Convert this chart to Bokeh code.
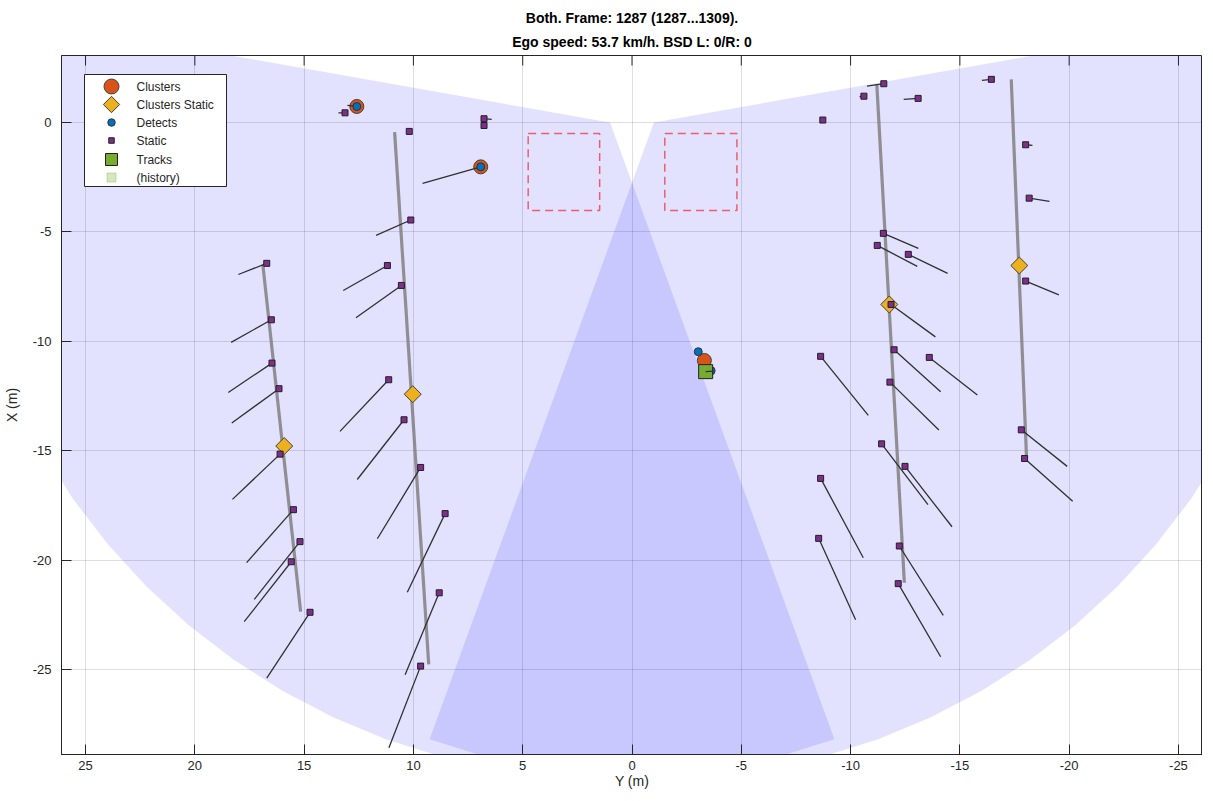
import numpy as np
from bokeh.plotting import figure
from bokeh.models import Range1d, Title, FixedTicker
from bokeh.embed import file_html
from bokeh.resources import INLINE
from bokeh.core.properties import value

# ---------------- data ----------------
title_line1 = "Both. Frame: 1287 (1287...1309)."
title_line2 = "Ego speed: 53.7 km/h. BSD L: 0/R: 0"
x_label = "Y (m)"
y_label = "X (m)"
x_ticks = [25, 20, 15, 10, 5, 0, -5, -10, -15, -20, -25]
y_ticks = [0, -5, -10, -15, -20, -25]

# radar sensors: lateral Y, longitudinal X, field of view (deg) and range (m)
sensor_y = [1.0, -1.0]
sensor_x = [0.0, 0.0]
fov_start = [-110.0, 170.0]
fov_end = [10.0, 290.0]
sensor_range = [30.0, 30.0]

# BSD zones
zone_y0 = [1.48, -4.80]
zone_y1 = [4.75, -1.50]
zone_x0 = [-4.02, -4.02]
zone_x1 = [-0.50, -0.50]

# fitted lines (guard rails)
rail_y0 = [16.89, 10.86, -11.20, -17.35]
rail_x0 = [-6.49, -0.44, 1.74, 1.97]
rail_y1 = [15.16, 9.30, -12.46, -18.05]
rail_x1 = [-22.36, -24.77, -21.04, -15.33]

# static detections and their trail end points
static_y = [16.71, 16.50, 16.47, 16.15, 16.10, 15.49, 15.19, 15.59, 14.73,
            10.19, 10.12, 11.19, 10.55, 11.13, 10.43, 9.67, 8.55, 8.82, 9.67,
            13.13, 6.77, 6.77,
            -11.52, -10.61, -13.09, -8.73, -16.44, -18.01, -18.17, -11.50, -11.22,
            -12.64, -11.85, -18.01, -11.99, -13.60, -8.63, -11.80, -17.81, -17.96,
            -11.42, -12.49, -8.63, -8.54, -12.23, -12.18]
static_x = [-6.44, -9.02, -11.00, -12.17, -15.16, -17.70, -19.16, -20.08, -22.39,
            -0.41, -4.46, -6.54, -7.45, -11.76, -13.59, -15.77, -17.88, -21.50, -24.85,
            0.44, 0.17, -0.14,
            1.77, 1.20, 1.10, 0.11, 1.97, -1.02, -3.46, -5.07, -5.62,
            -6.03, -8.32, -7.25, -10.39, -10.74, -10.69, -11.87, -14.05, -15.36,
            -14.69, -15.72, -16.27, -19.01, -19.36, -21.08]
static_end_y = [18.01, 18.34, 18.47, 18.31, 18.28, 17.63, 17.28, 17.74, 16.71,
                10.19, 11.71, 13.21, 12.63, 13.36, 12.57, 11.65, 10.28, 10.38, 11.12,
                13.43, 6.42, 6.77,
                -10.75, -10.41, -12.43, -8.73, -16.01, -18.32, -19.10, -13.10, -13.05,
                -14.44, -13.88, -19.53, -14.12, -15.80, -10.81, -14.04, -19.91, -20.16,
                -13.54, -14.64, -10.58, -10.23, -14.24, -14.12]
static_end_x = [-6.95, -10.05, -12.34, -13.74, -17.23, -20.12, -21.80, -22.82, -25.40,
                -0.41, -5.16, -7.68, -8.93, -14.12, -16.32, -19.03, -21.47, -25.24, -28.58,
                0.44, 0.14, -0.14,
                1.66, 1.18, 1.05, 0.11, 1.92, -1.05, -3.61, -5.76, -6.58,
                -6.90, -9.80, -7.88, -12.31, -12.46, -13.39, -14.06, -15.72, -17.31,
                -17.47, -18.48, -19.90, -22.73, -22.53, -24.42]

# static clusters
cstat_y = [15.91, 10.03, -11.77, -17.72]
cstat_x = [-14.79, -12.42, -8.32, -6.54]

# moving clusters
clus_y = [12.59, 6.92, -3.31]
clus_x = [0.73, -2.03, -10.88]

# detections and their trails
det_y = [12.59, 6.92, -3.03, -3.62]
det_x = [0.73, -2.03, -10.48, -11.35]
det_end_y = [13.02, 9.58, -3.03, -3.62]
det_end_x = [0.78, -2.79, -10.48, -11.35]

# tracks
trk_y = [-3.37]
trk_x = [-11.39]
trk_end_y = [-3.72]
trk_end_x = [-11.37]

legend_labels = ["Clusters", "Clusters Static", "Detects", "Static", "Tracks", "(history)"]

# ---------------- figure ----------------
FONT = "Liberation Sans"
TXT = "#262626"
X_LO, X_HI = 26.1, -26.1
Y_LO, Y_HI = -28.89, 3.06
FW, FH = 1141, 699
pxm_x = FW / abs(X_HI - X_LO)
pxm_y = FH / (Y_HI - Y_LO)

p = figure(frame_width=FW, frame_height=FH, output_backend="svg", toolbar_location=None,
           x_range=Range1d(X_LO, X_HI), y_range=Range1d(Y_LO, Y_HI),
           min_border_left=0, min_border_right=0, min_border_top=0, min_border_bottom=0,
           margin=(6, 0, 0, 0),
           background_fill_color="white", border_fill_color="white")
p.title.text = title_line1
p.title.align = "center"
p.title.text_font = FONT
p.title.text_font_size = "14px"
p.title.text_font_style = "bold"
p.title.text_color = "black"
p.title.standoff = 2
p.add_layout(Title(text=title_line2, align="center", text_font=FONT, text_font_size="14px",
                   text_font_style="bold", text_color="black", standoff=11), "above")

p.outline_line_color = TXT
p.outline_line_alpha = 1.0

for ax in (p.xaxis[0], p.yaxis[0]):
    ax.major_tick_in = 10
    ax.major_tick_out = 0
    ax.minor_tick_line_color = None
    ax.axis_line_color = TXT
    ax.major_tick_line_color = TXT
    ax.major_label_text_font = FONT
    ax.major_label_text_font_size = "13px"
    ax.major_label_text_color = TXT
    ax.axis_label_text_font = FONT
    ax.axis_label_text_font_size = "14px"
    ax.axis_label_text_font_style = "normal"
    ax.axis_label_text_color = TXT
p.xaxis.ticker = FixedTicker(ticks=x_ticks)
p.yaxis.ticker = FixedTicker(ticks=y_ticks)
p.xaxis.major_label_overrides = {t: str(t) for t in x_ticks}
p.yaxis.major_label_overrides = {t: str(t) for t in y_ticks}
p.xaxis.axis_label = x_label
p.yaxis.axis_label = y_label
p.xaxis.major_label_standoff = 6
p.xaxis.axis_label_standoff = 0
p.yaxis.major_label_standoff = 10
p.yaxis.axis_label_standoff = 10

p.xgrid.ticker = FixedTicker(ticks=x_ticks)
p.ygrid.ticker = FixedTicker(ticks=y_ticks)
p.grid.grid_line_color = "#262626"
p.grid.grid_line_alpha = 0.15

# radar fields of view
fan_xs, fan_ys = [], []
for sy_, sx_, a0, a1, r in zip(sensor_y, sensor_x, fov_start, fov_end, sensor_range):
    th = np.radians(np.linspace(a0, a1, 25))
    fan_xs.append([sy_] + list(sy_ + r * np.cos(th)) + [sy_])
    fan_ys.append([sx_] + list(sx_ + r * np.sin(th)) + [sx_])
p.patches(fan_xs, fan_ys, fill_color="#0000ff", fill_alpha=0.115, line_color=None)

# top-edge ticks (box)
tick_len = 10 / pxm_y
p.segment(x_ticks, [Y_HI] * len(x_ticks), x_ticks, [Y_HI - tick_len] * len(x_ticks),
          line_color=TXT, line_width=1)

# BSD zones
p.quad(left=zone_y0, right=zone_y1, bottom=zone_x0, top=zone_x1, fill_color=None,
       line_color="#f03c4b", line_alpha=0.8, line_width=1.5, line_dash="8 5")

# rails
p.segment(rail_y0, rail_x0, rail_y1, rail_x1, line_color="#808080", line_width=3.2, line_alpha=0.85)

# static trails
p.segment(static_y, static_x, static_end_y, static_end_x, line_color="#303030", line_width=1.3)

STY = dict(
    cstat=dict(marker="square", angle=np.pi / 4, fill_color="#EDB120", line_color="#404040", line_width=1),
    stat=dict(marker="square", fill_color="#7E2F8E", line_color="#202020", line_width=1),
    clus=dict(marker="circle", fill_color="#D95319", line_color="#404040", line_width=1),
    det=dict(marker="circle", fill_color="#0072BD", line_color="#303030", line_width=1),
    trk=dict(marker="square", fill_color="#77AC30", line_color="#202020", line_width=1),
    hist=dict(marker="square", fill_color="#77AC30", fill_alpha=0.3, line_color="#77AC30", line_alpha=0.35),
)

p.scatter(cstat_y, cstat_x, size=12, **STY["cstat"])
p.scatter(static_y, static_x, size=6, **STY["stat"])
p.scatter(clus_y, clus_x, size=14, **STY["clus"])
p.segment(det_y, det_x, det_end_y, det_end_x, line_color="#303030", line_width=1.3)
p.scatter(det_y, det_x, size=8, **STY["det"])
p.scatter(trk_y, trk_x, size=14, **STY["trk"])
p.segment(trk_y, trk_x, trk_end_y, trk_end_x, line_color="#303030", line_width=1.3)

# legend box (placed in screen pixels relative to the frame's top-left corner)
def sx(px):
    return X_LO - px / pxm_x

def sy(py):
    return Y_HI - py / pxm_y

p.quad(left=[sx(23)], right=[sx(165)], top=[sy(19)], bottom=[sy(131)],
       fill_color="white", line_color=TXT, line_width=1)
row_py = [31, 49, 67, 85, 104, 122]
leg_keys = ["clus", "cstat", "det", "stat", "trk", "hist"]
leg_sizes = [15, 11.5, 7.5, 5.5, 12, 9]
for key, size, py in zip(leg_keys, leg_sizes, row_py):
    p.scatter([sx(50)], [sy(py)], size=size, **STY[key])
p.text(x=[sx(75)] * len(legend_labels), y=[sy(py) for py in row_py], text=legend_labels,
       text_font=value(FONT), text_font_size="12px", text_color=TXT, text_baseline="middle",
       text_align="left")

open("out.html", "w").write(file_html(p, INLINE))
